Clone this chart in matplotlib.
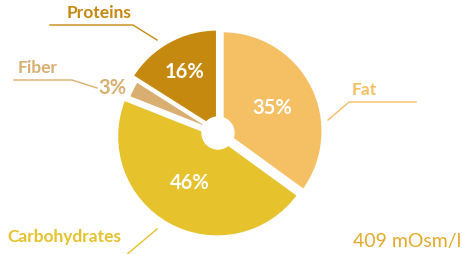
import matplotlib.pyplot as plt
from matplotlib.patches import Circle

# data
labels = ["Fat", "Carbohydrates", "Fiber", "Proteins"]
values = [35, 46, 3, 16]
colors = ["#F5BF63", "#E6C22D", "#D8AF70", "#C5890F"]
pct_text = ["35%", "46%", "3%", "16%"]
osm_text = "409 mOsm/l"

W, H = 462, 254


def py(y):
    # pixel row -> data y
    return H - y


plt.rcParams['font.family'] = ['Lato', 'DejaVu Sans']
fig = plt.figure(figsize=(W / 100, H / 100), dpi=100)
ax = fig.add_axes([0, 0, 1, 1])

R = 100
wedges, _ = ax.pie(values, colors=colors, startangle=90, counterclock=False,
                   radius=R, center=(219, py(133)), explode=[4] * 4,
                   wedgeprops=dict(edgecolor='white', linewidth=1.6),
                   frame=True)
# fiber slice is drawn a bit shorter
wedges[2].set_radius(93)
ax.set_xlim(0, W)
ax.set_ylim(0, H)
ax.set_aspect('equal')
ax.axis('off')
ax.add_patch(Circle((218, py(133)), 16, color='white', zorder=5))

# percentages
pf = 14.5
ax.text(272, py(108), pct_text[0], color='white', fontsize=pf, fontweight='bold', ha='center', va='center')
ax.text(190, py(183), pct_text[1], color='white', fontsize=pf, fontweight='bold', ha='center', va='center')
ax.text(112, py(88), pct_text[2], color=colors[2], fontsize=pf, fontweight='bold', ha='center', va='center')
ax.text(185, py(72), pct_text[3], color='white', fontsize=pf, fontweight='bold', ha='center', va='center')

# category labels with leader lines
lf = 12.5
ax.text(364, py(90), labels[0], color=colors[0], fontsize=lf, fontweight='bold', ha='center', va='center')
ax.plot([328, 349, 416], [py(120), py(102), py(102)], color=colors[0], lw=1)

ax.text(64, py(237), labels[1], color=colors[1], fontsize=lf, fontweight='bold', ha='center', va='center')
ax.plot([157, 125], [py(229), py(256)], color=colors[1], lw=1)

ax.text(38, py(68), labels[2], color=colors[2], fontsize=lf, fontweight='bold', ha='center', va='center')
ax.plot([14, 72, 97], [py(80), py(80), py(88)], color=colors[2], lw=1)

ax.text(99, py(13), labels[3], color=colors[3], fontsize=lf, fontweight='bold', ha='center', va='center')
ax.plot([50, 133, 157], [py(25), py(25), py(40)], color=colors[3], lw=1)

ax.text(461, py(242), osm_text, color='#E3A92B', fontsize=14, ha='right', va='center')

fig.savefig("out.png", dpi=100)
